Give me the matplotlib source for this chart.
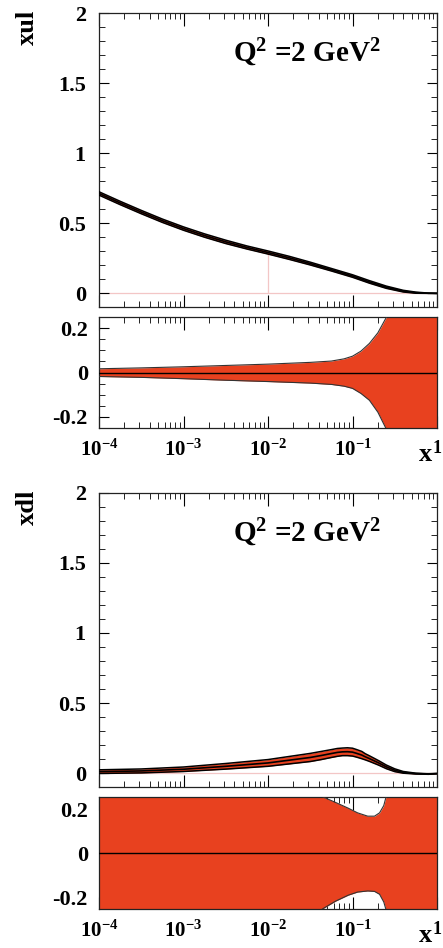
import numpy as np
import matplotlib
matplotlib.use('Agg')
import matplotlib.pyplot as plt
from matplotlib.ticker import FixedLocator, MultipleLocator, LogLocator, NullFormatter

plt.rcParams['font.family'] = 'serif'
plt.rcParams['font.serif'] = ['Liberation Serif', 'DejaVu Serif']
plt.rcParams['font.weight'] = 'bold'
plt.rcParams['mathtext.default'] = 'regular'

BAND = '#e8411f'

# x grid (log10 x) for the distributions
logx = [-4, -3.75, -3.5, -3.25, -3, -2.75, -2.5, -2.25, -2, -1.75, -1.5, -1.25,
        -1, -0.8, -0.6, -0.4, -0.25, -0.1, 0]
xu = [0.714, 0.646, 0.581, 0.519, 0.463, 0.413, 0.368, 0.328, 0.292, 0.254, 0.213,
      0.169, 0.124, 0.082, 0.044, 0.016, 0.005, 0.001, 0.0]
xu_err = [0.012, 0.012, 0.012, 0.012, 0.012, 0.012, 0.012, 0.011, 0.011, 0.011, 0.010,
          0.009, 0.009, 0.009, 0.008, 0.006, 0.004, 0.001, 0.0]

logx_d = [-4, -3.5, -3, -2.5, -2, -1.5, -1.37, -1.25, -1.18, -1.12, -1.06, -1, -0.95,
          -0.89, -0.85, -0.8, -0.69, -0.6, -0.5, -0.4, -0.25, -0.1, 0]
xd = [0.012, 0.017, 0.029, 0.05, 0.074, 0.113, 0.127, 0.141, 0.149, 0.153, 0.154,
      0.151, 0.142, 0.13, 0.118, 0.105, 0.074, 0.046, 0.022, 0.007, -0.002, -0.005,
      -0.002]
xd_err = [0.013, 0.014, 0.016, 0.02, 0.024, 0.029, 0.029, 0.028, 0.028, 0.027, 0.028,
          0.028, 0.027, 0.026, 0.022, 0.02, 0.016, 0.013, 0.01, 0.006, 0.003, 0.002,
          0.001]

# relative uncertainty bands
logx_ru = [-4, -3.5, -3, -2.5, -2, -1.5, -1.25, -1.1, -1.0, -0.9, -0.8, -0.7, -0.6,
           -0.5, -0.3, 0]
ru_up = [0.017, 0.021, 0.026, 0.032, 0.038, 0.046, 0.052, 0.062, 0.074, 0.097, 0.132,
         0.18, 0.25, 0.34, 0.6, 1.2]
ru_dn = [-0.018, -0.022, -0.028, -0.035, -0.041, -0.048, -0.054, -0.062, -0.072,
         -0.095, -0.126, -0.18, -0.257, -0.34, -0.6, -1.2]

logx_rd = [-4, -2, -1.5, -1.35, -1.2, -1.05, -0.94, -0.82, -0.74, -0.68, -0.63, -0.6,
           -0.5, 0]
rd_up = [0.6, 0.45, 0.3, 0.255, 0.23, 0.204, 0.183, 0.168, 0.168, 0.183, 0.216, 0.26,
         0.4, 0.8]
rd_dn = [-0.6, -0.45, -0.3, -0.25, -0.216, -0.189, -0.175, -0.17, -0.172, -0.185,
         -0.22, -0.26, -0.4, -0.8]

xticks = [1e-4, 1e-3, 1e-2, 1e-1]
xlabels = ['$10^{-4}$', '$10^{-3}$', '$10^{-2}$', '$10^{-1}$']

fig = plt.figure(figsize=(4.43, 9.48), dpi=100)

L, W = 0.2235, 0.763


def style(ax, ratio=False, labels=False):
    ax.set_xscale('log')
    ax.set_xlim(1e-4, 1)
    ax.xaxis.set_major_locator(FixedLocator(xticks + [1]))
    ax.xaxis.set_minor_locator(LogLocator(base=10, subs=np.arange(2, 10)))
    ax.xaxis.set_minor_formatter(NullFormatter())
    if labels:
        ax.set_xticklabels(xlabels + [''])
    else:
        ax.set_xticklabels([])
    if ratio:
        ax.set_ylim(-0.253, 0.253)
        ax.set_yticks([-0.2, 0, 0.2])
        ax.set_yticklabels(['-0.2', '0', '0.2'])
        ax.yaxis.set_minor_locator(MultipleLocator(0.05))
        ypad = 8
    else:
        ax.set_ylim(-0.095, 2.0)
        ax.set_yticks([0, 0.5, 1, 1.5, 2])
        ax.set_yticklabels(['0', '0.5', '1', '1.5', '2'])
        ax.yaxis.set_minor_locator(MultipleLocator(0.1))
        ypad = 9.5
    ax.tick_params(which='both', direction='in', top=True, right=True)
    ax.tick_params(axis='x', which='major', length=9, pad=8, labelsize=15)
    ax.tick_params(axis='x', which='minor', length=4.5)
    ax.tick_params(axis='y', which='major', length=7, pad=ypad, labelsize=16)
    ax.tick_params(axis='y', which='minor', length=4)
    for s in ax.spines.values():
        s.set_linewidth(0.9)
        s.set_color('#222222')


def main_panel(rect, lx, c, e, ylab, vline=False):
    ax = fig.add_axes(rect)
    x = 10.0 ** np.array(lx)
    c = np.array(c)
    e = np.array(e)
    ax.axhline(0, color='#f3c6c6', lw=0.9, zorder=1)
    if vline:
        ax.plot([1e-2, 1e-2], [0, 0.292], color='#f3c6c6', lw=0.9, zorder=1)
    ax.fill_between(x, c - e, c + e, color=BAND, lw=0, zorder=2)
    ax.plot(x, c + e, color='black', lw=1.1, zorder=3)
    ax.plot(x, c - e, color='black', lw=1.1, zorder=3)
    ax.plot(x, c, color='black', lw=1.2, zorder=3)
    ax.text(0.396, 0.833, r'Q$^{2}$ =2 GeV$^{2}$', transform=ax.transAxes,
            ha='left', va='baseline', fontsize=21)
    style(ax)
    fig.text(0.061, rect[1] + rect[3] + 0.0035, ylab, rotation=90, ha='center',
             va='top', fontsize=19)
    return ax


def ratio_panel(rect, lx, up, dn):
    ax = fig.add_axes(rect)
    x = 10.0 ** np.array(lx)
    ax.fill_between(x, dn, up, color=BAND, lw=0, zorder=2)
    ax.plot(x, up, color='#333333', lw=0.8, zorder=3)
    ax.plot(x, dn, color='#333333', lw=0.8, zorder=3)
    ax.axhline(0, color='black', lw=1.0, zorder=4)
    style(ax, ratio=True, labels=True)
    # axis title and the label of the last decade
    fig.text(0.9975, rect[1] - 0.0125, '1', ha='right', va='top', fontsize=13)
    fig.text(0.975, rect[1] - 0.0395, 'x', ha='right', va='bottom', fontsize=19)
    return ax


main_panel([L, 0.6765, W, 0.3093], logx, xu, xu_err, 'xul', vline=True)
ratio_panel([L, 0.5482, W, 0.1177], logx_ru, ru_up, ru_dn)

main_panel([L, 0.1702, W, 0.3101], logx_d, xd, xd_err, 'xdl')
ratio_panel([L, 0.0408, W, 0.1181], logx_rd, rd_up, rd_dn)

fig.savefig('out.png', dpi=100)
